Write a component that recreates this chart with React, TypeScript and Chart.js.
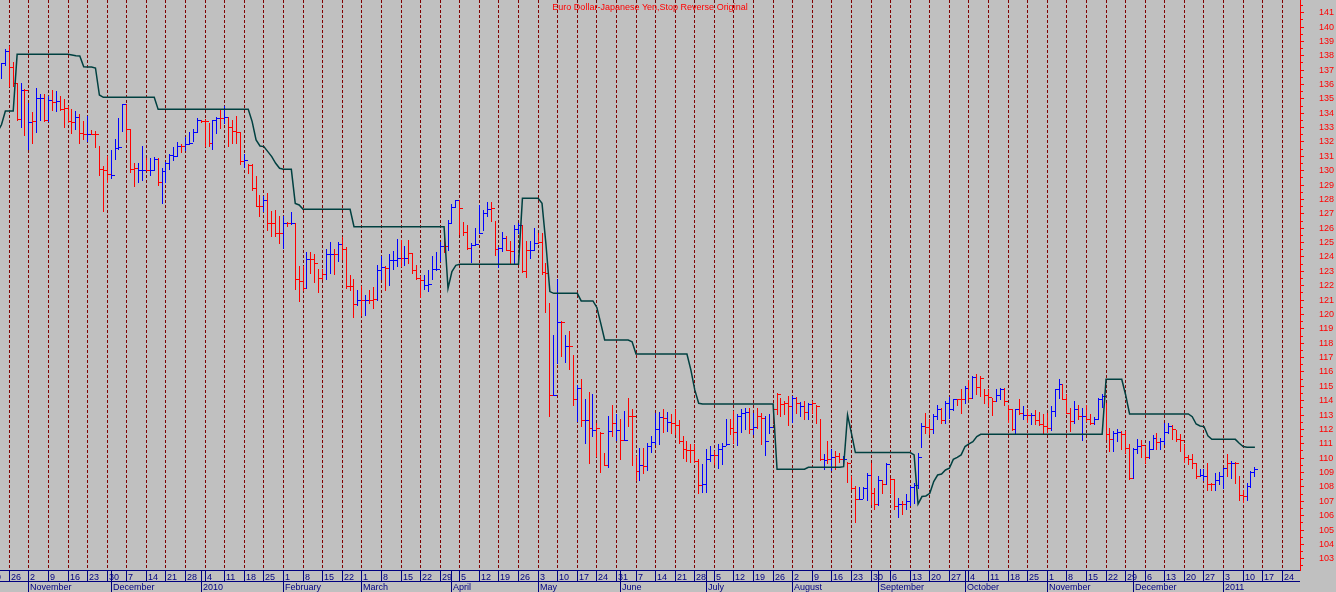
import React, { useEffect, useRef } from "react";
import { Chart, registerables } from "chart.js";

Chart.register(...registerables);

const TITLE = "Euro Dollar-Japanese Yen,Stop Reverse Original";

// trading-day index of the first bar (0 = Monday 26 Oct 2009)
const FIRST_BAR = -2;

const highs = [
  137.48, 138.45, 138.64, 137.5, 136.08, 136.1, 135.67, 134.7, 134.04, 135.74,
  135.27, 135.27, 135.2, 135.57, 135.5, 135.2, 134.97, 134.5, 134.27, 134.1,
  133.88, 133.42, 133.77, 132.79, 132.72, 131.68, 130.28, 130.98, 131.4, 132.14,
  133.65, 134.64, 134.64, 132.88, 130.52, 130.52, 131.72, 130.87, 130.87, 130.91,
  130.87, 130.17, 130.56, 131.14, 131.63, 131.98, 131.86, 132.33, 132.65, 132.88,
  133.65, 133.53, 133.58, 133.3, 133.53, 133.72, 134.23, 134.5, 133.72, 133.53,
  133.77, 132.65, 131.1, 130.4, 130.4, 129.59, 128.31, 128.24, 128.43, 127.15,
  127.22, 126.8, 126.8, 126.39, 127.08, 126.34, 123.33, 123.33, 124.3, 124.32,
  124.2, 123.14, 123.14, 124.53, 125.0, 124.53, 125.0, 125.34, 124.65, 122.7,
  122.4, 121.7, 121.93, 121.35, 121.7, 121.89, 123.44, 124.02, 123.32, 124.14,
  124.37, 125.23, 125.18, 124.72, 125.18, 124.25, 123.44, 122.67, 122.74, 123.09,
  124.02, 124.3, 125.0, 125.64, 126.57, 127.62, 127.96, 127.92, 126.39, 126.22,
  124.95, 126.0, 127.55, 127.22, 127.78, 127.78, 126.46, 124.67, 125.69, 125.41,
  125.07, 126.22, 126.34, 126.22, 125.07, 125.07, 126.0, 125.64, 125.64, 123.56,
  120.77, 118.57, 122.4, 119.5, 118.57, 118.8, 117.11, 115.09, 115.48, 114.09,
  114.56, 114.46, 112.42, 111.77, 110.33, 112.88, 113.7, 113.07, 112.7, 113.23,
  114.16, 113.4, 110.1, 110.68, 110.68, 111.03, 111.5, 113.12, 113.17, 113.4,
  113.17, 113.01, 113.4, 112.61, 111.5, 111.15, 110.92, 110.92, 109.92, 109.53,
  110.57, 110.8, 110.46, 110.92, 111.04, 112.66, 112.71, 113.24, 113.01, 113.36,
  113.47, 113.47, 113.08, 113.47, 113.12, 112.89, 113.01, 113.4, 114.47, 114.17,
  113.94, 114.28, 114.28, 114.24, 113.87, 113.94, 113.82, 113.94, 113.7, 112.71,
  110.23, 111.15, 110.57, 110.46, 110.34, 110.11, 109.69, 108.76, 108.0, 107.97,
  107.97, 108.9, 109.65, 107.9, 108.72, 108.48, 109.65, 108.6, 108.53, 107.21,
  106.98, 107.44, 108.02, 108.25, 110.34, 112.43, 113.12, 112.66, 113.01, 113.7,
  113.47, 113.94, 114.24, 114.1, 114.1, 114.75, 114.98, 115.44, 115.68, 115.79,
  115.68, 114.8, 114.75, 114.17, 114.79, 114.86, 114.86, 113.7, 113.36, 113.4,
  114.05, 113.63, 113.36, 113.08, 113.31, 113.17, 113.01, 113.12, 113.59, 114.79,
  115.49, 115.1, 114.4, 113.47, 113.94, 113.7, 113.47, 113.7, 113.01, 112.85,
  114.17, 114.4, 113.82, 112.08, 111.85, 111.97, 111.85, 111.85, 110.92, 110.69,
  111.27, 111.22, 110.81, 111.15, 111.55, 111.73, 111.38, 112.43, 112.43, 112.24,
  111.92, 111.62, 110.92, 110.16, 110.23, 109.64, 109.23, 109.23, 109.6, 108.25,
  108.95, 109.0, 109.3, 110.23, 109.76, 109.69, 108.72, 107.74, 108.25, 109.07, 109.37,
];

const lows = [
  136.43, 137.31, 135.85, 135.85, 133.49, 133.0, 132.44, 131.45, 131.9, 132.65,
  133.49, 133.42, 133.42, 134.2, 134.1, 134.2, 133.0, 133.35, 132.6, 132.84,
  131.9, 132.14, 132.0, 132.49, 131.63, 129.66, 127.15, 129.17, 129.47, 130.8,
  131.45, 132.7, 132.14, 129.89, 128.9, 129.17, 129.29, 130.0, 129.64, 130.05,
  129.0, 127.73, 129.17, 130.1, 130.7, 130.98, 131.26, 131.4, 131.86, 132.0,
  132.65, 133.35, 131.68, 131.68, 131.45, 132.56, 132.95, 133.3, 131.72, 131.9,
  131.9, 130.4, 130.2, 129.82, 128.66, 127.5, 126.8, 127.15, 125.83, 125.4,
  125.4, 124.95, 124.6, 126.11, 126.23, 121.75, 120.9, 121.7, 121.82, 122.86,
  122.21, 121.52, 122.4, 122.4, 122.86, 122.81, 123.67, 123.79, 121.82, 121.7,
  119.78, 120.6, 119.96, 119.9, 120.77, 120.42, 121.0, 122.4, 121.65, 122.0,
  123.16, 123.33, 123.33, 123.44, 123.56, 122.86, 122.44, 121.19, 121.75, 121.58,
  122.44, 123.09, 123.67, 124.3, 124.48, 126.39, 127.45, 125.53, 125.46, 124.53,
  123.6, 124.83, 125.6, 125.83, 126.8, 126.46, 124.07, 123.28, 124.37, 124.44,
  123.56, 123.51, 125.64, 122.91, 122.58, 123.9, 124.48, 124.95, 122.81, 120.12,
  112.93, 114.39, 116.6, 117.06, 116.64, 116.18, 113.7, 112.54, 112.19, 111.03,
  109.64, 111.5, 110.1, 108.99, 109.52, 109.36, 111.5, 111.26, 109.9, 111.21,
  112.19, 109.52, 108.48, 108.48, 108.94, 109.17, 110.39, 110.92, 110.92, 111.78,
  111.85, 111.69, 111.62, 110.99, 110.0, 109.76, 109.69, 109.69, 107.51, 107.6,
  107.6, 109.76, 109.53, 109.3, 109.53, 110.85, 111.62, 110.99, 110.85, 111.78,
  111.97, 111.73, 111.62, 112.08, 110.92, 110.16, 111.73, 112.38, 113.01, 112.89,
  113.01, 112.24, 112.47, 113.12, 112.89, 112.71, 112.71, 113.12, 112.43, 109.83,
  109.18, 109.65, 109.13, 109.18, 109.69, 109.6, 108.3, 107.84, 105.5, 107.1,
  107.21, 107.09, 106.81, 106.4, 106.74, 107.56, 108.14, 107.56, 106.4, 105.89,
  106.05, 106.4, 106.74, 106.86, 107.9, 110.76, 111.73, 111.62, 111.69, 112.71,
  112.38, 112.38, 112.78, 113.31, 113.64, 113.12, 113.82, 114.05, 114.17, 114.4,
  114.28, 113.82, 113.59, 112.96, 113.94, 114.1, 113.7, 112.47, 111.92, 111.69,
  113.01, 112.66, 112.47, 112.31, 112.31, 112.29, 111.73, 111.78, 111.92, 112.89,
  114.17, 114.05, 113.08, 111.85, 112.43, 112.66, 111.22, 112.54, 112.31, 112.31,
  112.66, 113.54, 111.27, 110.46, 110.46, 111.15, 110.57, 110.34, 108.53, 108.6,
  110.34, 110.06, 109.64, 109.99, 110.62, 110.57, 110.62, 110.92, 111.73, 111.27,
  111.15, 110.46, 109.69, 109.53, 109.3, 108.6, 108.72, 108.44, 107.74, 107.74,
  107.74, 108.14, 107.9, 108.76, 108.6, 108.25, 107.09, 106.91, 107.09, 107.97, 108.76,
];

const closes = [
  137.43, 138.33, 137.2, 136.1, 133.55, 135.6, 135.57, 133.35, 133.4, 135.0,
  135.04, 133.53, 134.92, 134.74, 134.85, 134.27, 134.3, 133.4, 133.35, 133.72,
  132.6, 132.49, 132.54, 132.54, 132.54, 130.1, 130.05, 129.73, 129.7, 131.56,
  131.63, 134.62, 132.88, 130.1, 130.17, 130.05, 130.05, 130.0, 130.0, 130.8,
  129.17, 129.94, 130.52, 131.03, 130.98, 131.72, 131.72, 131.84, 131.91, 132.65,
  133.53, 133.42, 133.42, 131.91, 133.53, 133.65, 133.65, 133.72, 133.0, 132.72,
  132.65, 130.63, 130.68, 130.33, 128.78, 127.5, 127.5, 127.92, 126.3, 126.3,
  125.65, 125.65, 126.34, 126.34, 126.3, 122.4, 122.28, 121.82, 123.84, 123.79,
  123.56, 122.51, 122.75, 124.18, 124.2, 124.2, 124.9, 124.53, 121.93, 121.93,
  120.7, 121.0, 121.0, 121.0, 121.0, 121.05, 123.09, 123.25, 123.21, 123.74,
  123.74, 123.9, 123.9, 123.9, 124.25, 123.09, 122.51, 122.35, 122.05, 122.1,
  123.16, 123.16, 124.76, 124.76, 126.34, 127.45, 127.92, 127.36, 125.69, 124.6,
  124.83, 124.9, 125.64, 127.04, 127.31, 127.36, 124.53, 124.6, 125.3, 124.48,
  124.37, 125.88, 126.22, 122.98, 124.44, 124.48, 124.95, 124.99, 122.91, 122.86,
  114.39, 114.39, 119.43, 119.43, 117.76, 117.76, 114.09, 114.86, 112.65, 112.65,
  112.07, 111.9, 112.07, 111.73, 109.52, 111.84, 112.42, 111.91, 111.26, 111.26,
  112.88, 112.88, 109.06, 109.52, 109.45, 110.84, 111.08, 111.97, 112.85, 112.78,
  112.47, 112.43, 112.24, 111.15, 110.57, 110.53, 110.53, 109.76, 108.07, 108.14,
  109.88, 110.16, 110.16, 110.57, 110.8, 110.92, 112.08, 111.78, 112.89, 113.12,
  113.17, 111.97, 112.15, 112.89, 112.78, 111.15, 112.15, 113.36, 114.4, 113.77,
  113.82, 113.59, 114.17, 113.82, 113.59, 113.17, 113.77, 113.82, 113.59, 109.88,
  109.83, 109.92, 110.06, 110.11, 109.92, 109.92, 109.6, 107.9, 107.1, 107.14,
  107.9, 108.83, 107.56, 106.81, 108.48, 108.14, 109.53, 108.53, 106.63, 106.81,
  106.81, 106.98, 107.97, 108.07, 110.06, 112.2, 112.15, 112.01, 112.89, 113.4,
  112.6, 113.82, 113.4, 114.05, 114.05, 114.05, 114.86, 114.17, 115.63, 114.93,
  115.56, 114.33, 114.24, 113.94, 114.33, 114.79, 113.94, 113.36, 112.01, 113.36,
  113.08, 112.94, 112.94, 112.94, 112.61, 112.36, 112.2, 112.08, 113.24, 114.75,
  115.1, 114.1, 113.12, 112.54, 113.4, 112.89, 112.89, 112.66, 112.43, 112.66,
  114.05, 114.28, 111.62, 111.27, 111.73, 111.78, 111.62, 110.69, 108.6, 110.57,
  110.81, 110.85, 110.06, 110.57, 111.38, 111.08, 111.15, 111.78, 112.2, 111.97,
  111.27, 111.22, 110.06, 109.88, 109.6, 108.72, 108.83, 108.76, 108.14, 108.14,
  108.44, 108.72, 109.3, 109.64, 109.6, 109.6, 107.37, 107.33, 108.02, 109.0, 109.23,
];

// b = blue (up) bar, r = red (down) bar
const barDirs =
  "bbrrrbrbrb" + "brbrbrrrrb" + "rrbrrrrrbb" + "bbrrrbbrbb" + "rbbbbbrbbb" +
  "brrrbbrbrr" + "rrbrrrrbrr" + "rrbrbrrrbr" + "rrrbbrbrrr" + "rbrbrrbbrb" +
  "bbrbrrrrbb" + "bbbrbbbrrr" + "bbbbbrrbbr" + "rbbrrbbrrr" + "rbbrbrrbrb" +
  "rbrrrbrbrb" + "rrrbrbbbbr" + "brrrrrrrrb" + "bbrbbbrrbb" + "brbrrbbrrr" +
  "rrbrbrbrrr" + "brbrrbrrrb" + "bbrrbrbrrb" + "rbbbbbrrbb" + "rbbbrrbrbr" +
  "rrrrbbrrrb" + "rbrbrrrrbb" + "brrrbrbrrb" + "bbrrbbrrrb" + "brrbbrbbbr" +
  "rrrrrrbbrr" + "bbbrbrrrbbb";

// Stop-and-reverse line, one value per trading day starting at index -3
const FIRST_STOP = -3;
const stopLine = [
  132.7, 133.2, 134.16, 134.16, 134.16,
  138.1, 138.1, 138.1, 138.1, 138.1, 138.1, 138.1, 138.1, 138.1, 138.1, 138.1, 138.1, 138.1, 138.1,
  138.05, 138.0, 137.99, 137.24, 137.22, 137.22, 137.15, 135.27,
  135.11, 135.11, 135.11, 135.11, 135.11, 135.11, 135.11, 135.11, 135.11, 135.11, 135.11, 135.11, 135.11, 135.11,
  134.27, 134.27, 134.27, 134.27, 134.27, 134.27, 134.27, 134.27, 134.27, 134.27, 134.27, 134.27,
  134.27, 134.27, 134.27, 134.27, 134.27, 134.27, 134.27, 134.27, 134.27, 134.27, 134.27, 134.27,
  133.42, 132.14, 131.72, 131.68, 131.33, 130.98, 130.52, 130.17, 130.1, 130.1, 130.1, 127.73, 127.62,
  127.32, 127.32, 127.32, 127.32, 127.32, 127.32, 127.32, 127.32, 127.32, 127.32, 127.32, 127.32, 127.32,
  126.11, 126.11, 126.11, 126.11, 126.11, 126.11, 126.11, 126.11, 126.11, 126.11, 126.11, 126.11,
  126.11, 126.11, 126.11, 126.11, 126.11, 126.11, 126.11, 126.11, 126.11, 126.11, 126.11, 126.11,
  121.82, 122.98, 123.42,
  123.49, 123.49, 123.49, 123.49, 123.49, 123.49, 123.49, 123.49,
  123.49, 123.49, 123.49, 123.49, 123.49, 123.49, 123.49, 123.49,
  128.08, 128.08, 128.08, 128.08, 128.08,
  127.73, 124.9, 121.59,
  121.47, 121.47, 121.47, 121.47, 121.47, 121.47, 121.47,
  120.94, 120.94, 120.94, 120.94,
  120.49, 119.38,
  118.22, 118.22, 118.22, 118.22, 118.22, 118.22, 118.22,
  118.1,
  117.25, 117.25, 117.25, 117.25, 117.25, 117.25, 117.25, 117.25, 117.25, 117.25, 117.25, 117.25, 117.25, 117.25,
  116.14, 114.75, 113.82,
  113.77, 113.77, 113.77, 113.77, 113.77, 113.77, 113.77, 113.77, 113.77, 113.77,
  113.77, 113.77, 113.77, 113.77, 113.77, 113.77, 113.77, 113.77, 113.77,
  109.23, 109.23, 109.23, 109.23, 109.23, 109.23, 109.23, 109.23,
  109.37, 109.37, 109.37, 109.37, 109.37, 109.37, 109.37, 109.37, 109.37,
  109.41, 113.01, 111.73,
  110.39, 110.39, 110.39, 110.39, 110.39, 110.39, 110.39, 110.39, 110.39, 110.39, 110.39, 110.39, 110.39, 110.39, 110.39,
  110.23, 106.8, 107.33, 107.37, 107.56, 108.37, 108.83, 108.9, 109.18, 109.3, 109.92, 110.06, 110.23, 110.81, 110.99, 111.15, 111.5,
  111.66, 111.66, 111.66, 111.66, 111.66, 111.66, 111.66, 111.66, 111.66, 111.66, 111.66, 111.66, 111.66, 111.66, 111.66, 111.66,
  111.66, 111.66, 111.66, 111.66, 111.66, 111.66, 111.66, 111.66, 111.66, 111.66, 111.66, 111.66, 111.66, 111.66, 111.66, 111.66,
  115.49, 115.49, 115.49, 115.49, 115.49,
  114.4,
  113.08, 113.08, 113.08, 113.08, 113.08, 113.08, 113.08, 113.08,
  113.08, 113.08, 113.08, 113.08, 113.08, 113.08, 113.08, 113.08,
  112.89, 112.38, 112.24, 112.2, 111.55,
  111.31, 111.31, 111.31, 111.31, 111.31, 111.31, 111.31,
  111.04, 110.81,
  110.76, 110.76, 110.76,
];

// Day-of-month labels of each Monday, starting Monday 19 Oct 2009
const weekLabels = [
  "19", "26", "2", "9", "16", "23", "30", "7", "14", "21", "28",
  "4", "11", "18", "25", "1", "8", "15", "22", "1", "8", "15", "22", "29",
  "5", "12", "19", "26", "3", "10", "17", "24", "31", "7", "14", "21", "28",
  "5", "12", "19", "26", "2", "9", "16", "23", "30", "6", "13", "20", "27",
  "4", "11", "18", "25", "1", "8", "15", "22", "29", "6", "13", "20", "27",
  "3", "10", "17", "24",
];

// Month row labels, starting October 2009
const monthLabels = [
  "October", "November", "December", "2010", "February", "March", "April", "May",
  "June", "July", "August", "September", "October", "November", "December", "2011",
];

const PRICE_MIN = 102.22;
const PRICE_MAX = 141.88;
const DAY_MIN = -2.374;
const DAY_MAX = 329.51;

const BG = "#c0c0c0";
const RED = "#ff0000";
const BLUE = "#0000ff";
const NAVY = "#000080";
const GRID = "#800000";
const STOP = "#004040";
const FONT = '"Liberation Sans", Arial, sans-serif';

function tradingDate(i: number): Date {
  const w = Math.floor(i / 5);
  const d = i - w * 5;
  return new Date(Date.UTC(2009, 9, 26 + w * 7 + d));
}

function monthStarts(): number[] {
  const out: number[] = [];
  for (let i = -30; i <= 330; i++) {
    if (tradingDate(i).getUTCMonth() !== tradingDate(i - 1).getUTCMonth()) out.push(i);
  }
  return out;
}

const mondays = weekLabels.map((_, k) => 5 * (k - 1));

const backgroundPlugin = {
  id: "bgfill",
  beforeDraw(chart: any) {
    const { ctx, width, height } = chart;
    ctx.save();
    ctx.fillStyle = BG;
    ctx.fillRect(0, 0, width, height);
    ctx.restore();
  },
};

const ohlcPlugin = {
  id: "ohlcBars",
  beforeDatasetsDraw(chart: any) {
    const { ctx, chartArea, scales } = chart;
    const x = scales.x;
    const y = scales.y;
    ctx.save();
    ctx.beginPath();
    ctx.rect(chartArea.left, chartArea.top, chartArea.right - chartArea.left, chartArea.bottom - chartArea.top);
    ctx.clip();
    for (let k = 0; k < highs.length; k++) {
      const px = Math.round(x.getPixelForValue(FIRST_BAR + k) - 0.5);
      const yh = Math.round(y.getPixelForValue(highs[k]) - 0.5);
      const yl = Math.round(y.getPixelForValue(lows[k]) - 0.5);
      const yc = Math.round(y.getPixelForValue(closes[k]) - 0.5);
      ctx.fillStyle = barDirs[k] === "b" ? BLUE : RED;
      ctx.fillRect(px, yh, 1, yl - yh + 1);
      ctx.fillRect(px + 1, yc, 3, 1);
    }
    ctx.restore();
  },
};

const axisPlugin = {
  id: "dateAxis",
  afterDraw(chart: any) {
    const { ctx, chartArea, scales } = chart;
    const x = scales.x;
    const y = scales.y;
    const left = chartArea.left;
    const right = chartArea.right;
    const top = chartArea.bottom;

    ctx.save();
    // minor price ticks
    ctx.fillStyle = RED;
    for (let v = Math.ceil(PRICE_MIN) - 0.5; v < PRICE_MAX; v += 1) {
      const py = Math.round(y.getPixelForValue(v) - 0.5);
      ctx.fillRect(right + 1, py, 2, 1);
    }

    // title
    ctx.fillStyle = RED;
    ctx.font = `9px ${FONT}`;
    ctx.textAlign = "center";
    ctx.textBaseline = "alphabetic";
    ctx.fillText(TITLE, (left + right) / 2, 10);

    // date axis
    ctx.beginPath();
    ctx.rect(left, top, right - left, 22);
    ctx.clip();
    ctx.strokeStyle = NAVY;
    ctx.lineWidth = 1;
    ctx.beginPath();
    ctx.moveTo(left, top + 0.5);
    ctx.lineTo(right, top + 0.5);
    ctx.moveTo(left, top + 11.5);
    ctx.lineTo(right, top + 11.5);
    ctx.stroke();

    ctx.fillStyle = NAVY;
    ctx.textAlign = "left";
    ctx.font = `9px ${FONT}`;
    weekLabels.forEach((lab, k) => {
      const px = Math.round(x.getPixelForValue(mondays[k]) - 0.5);
      ctx.fillText(lab, px + 2, top + 10);
      ctx.beginPath();
      ctx.moveTo(px + 0.5, top);
      ctx.lineTo(px + 0.5, top + 11);
      ctx.stroke();
    });
    monthStarts().forEach((idx, m) => {
      const lab = monthLabels[m];
      if (lab === undefined) return;
      const px = Math.round(x.getPixelForValue(idx) - 0.5);
      ctx.fillText(lab, px + 2, top + 20);
      ctx.beginPath();
      ctx.moveTo(px + 0.5, top);
      ctx.lineTo(px + 0.5, top + 22);
      ctx.stroke();
    });
    ctx.restore();
  },
};

export default function App() {
  const ref = useRef<HTMLCanvasElement | null>(null);

  useEffect(() => {
    document.body.style.margin = "0";
    document.body.style.background = BG;
    const canvas = ref.current;
    if (!canvas) return;
    const chart = new Chart(canvas, {
      type: "line",
      data: {
        datasets: [
          {
            label: "Stop Reverse",
            data: stopLine.map((v, k) => ({ x: FIRST_STOP + k, y: v })),
            borderColor: STOP,
            borderWidth: 1.5,
            pointRadius: 0,
            tension: 0,
            fill: false,
          },
        ],
      },
      options: {
        responsive: false,
        animation: false,
        devicePixelRatio: 1,
        events: [],
        layout: { padding: 0, autoPadding: false },
        plugins: {
          legend: { display: false },
          tooltip: { enabled: false },
          title: { display: false },
        },
        scales: {
          x: {
            type: "linear",
            min: DAY_MIN,
            max: DAY_MAX,
            afterFit: (s: any) => {
              s.height = 22;
              s.paddingLeft = 0;
              s.paddingRight = 0;
            },
            afterBuildTicks: (s: any) => {
              s.ticks = mondays.filter((v) => v >= DAY_MIN && v <= DAY_MAX).map((v) => ({ value: v }));
            },
            ticks: { display: false },
            grid: { color: GRID, lineWidth: 1, drawTicks: false, drawOnChartArea: true },
            border: { display: false, dash: [3, 2] },
          },
          y: {
            type: "linear",
            position: "right",
            min: PRICE_MIN,
            max: PRICE_MAX,
            afterFit: (s: any) => {
              s.width = 36;
              s.paddingTop = 0;
              s.paddingBottom = 0;
            },
            ticks: {
              stepSize: 1,
              includeBounds: false,
              autoSkip: false,
              color: RED,
              font: { family: FONT, size: 9 },
              padding: 15,
            },
            grid: { drawOnChartArea: false, drawTicks: true, tickLength: 4, color: RED },
            border: { display: true, color: RED, width: 1 },
          },
        },
      },
      plugins: [backgroundPlugin, ohlcPlugin, axisPlugin],
    } as any);
    return () => chart.destroy();
  }, []);

  return (
    <div style={{ width: 1336, height: 592 }}>
      <canvas ref={ref} width={1336} height={592} style={{ display: "block" }} />
    </div>
  );
}
